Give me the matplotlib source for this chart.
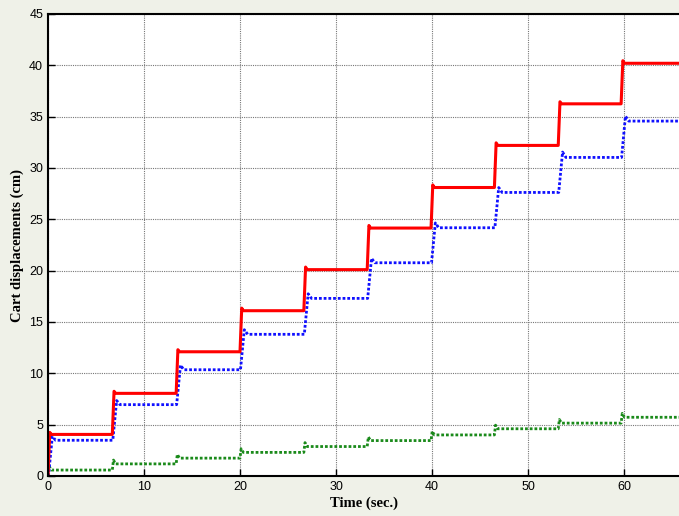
import numpy as np
import matplotlib.pyplot as plt

# instants at which each new reference step is applied (s)
step_times = [0.0, 6.7, 13.35, 20.0, 26.65, 33.25, 39.9, 46.5, 53.15, 59.7]

# settled level and transient peak after each step (cm)
red_levels = [4.05, 8.05, 12.1, 16.1, 20.1, 24.15, 28.1, 32.2, 36.25, 40.2]
red_peaks = [4.25, 8.25, 12.3, 16.35, 20.35, 24.4, 28.35, 32.45, 36.45, 40.45]
blue_levels = [3.48, 6.95, 10.35, 13.8, 17.3, 20.77, 24.18, 27.62, 31.03, 34.57]
blue_peaks = [3.85, 7.35, 10.8, 14.25, 17.75, 21.2, 24.65, 28.1, 31.55, 35.05]
green_levels = [0.58, 1.18, 1.74, 2.3, 2.87, 3.45, 4.0, 4.6, 5.15, 5.72]
green_peaks = [0.95, 1.55, 2.1, 2.65, 3.25, 3.8, 4.35, 4.95, 5.5, 6.1]

x_ticks = [0, 10, 20, 30, 40, 50, 60]
y_ticks = [0, 5, 10, 15, 20, 25, 30, 35, 40, 45]
t_end = 70.0


def staircase(levels, peaks, rise, peak_at, settle_at):
    # piecewise response: hold, rise to the peak, settle on the new level
    t, y = [0.0], [0.0]
    prev = 0.0
    for tk, lv, pk in zip(step_times, levels, peaks):
        t += [tk + rise, tk + peak_at, tk + settle_at]
        y += [prev, pk, lv]
        prev = lv
    t.append(t_end)
    y.append(prev)
    return np.array(t), np.array(y)


fig = plt.figure(figsize=(6.79, 5.16), dpi=100, facecolor='#eff1e8')
# axis runs to 70 s, the right part falls outside the figure
ax = fig.add_axes([48/679, 40/516, 672/679, 462/516])
ax.set_facecolor('white')

dots = (0, (1, 0.7))
tg, yg = staircase(green_levels, green_peaks, 0.0, 0.12, 0.35)
tb, yb = staircase(blue_levels, blue_peaks, 0.05, 0.45, 0.8)
tr, yr = staircase(red_levels, red_peaks, 0.0, 0.18, 0.35)

ax.plot(tg, yg, color='#1a8a1a', lw=2, ls=dots)
ax.plot(tb, yb, color='#1010ff', lw=2, ls=dots)
ax.plot(tr, yr, color='#ff0000', lw=2.2)

ax.set_xlim(0, t_end)
ax.set_ylim(0, 45)
ax.set_xticks(x_ticks)
ax.set_yticks(y_ticks)
ax.grid(True, color='#777777', ls=(0, (1, 1)), lw=0.8)
ax.tick_params(direction='in', length=5, labelsize=9, width=1)
for lbl in ax.get_xticklabels() + ax.get_yticklabels():
    lbl.set_family('Liberation Sans')
for s in ax.spines.values():
    s.set_linewidth(1.5)

ax.set_xlabel('Time (sec.)', family='Liberation Serif', weight='bold',
              fontsize=10.5)
ax.set_ylabel('Cart displacements (cm)', family='Liberation Serif',
              weight='bold', fontsize=10.5, labelpad=4)
ax.xaxis.set_label_coords(316/672, -0.045)

fig.savefig('out.png', dpi=100, facecolor=fig.get_facecolor())
